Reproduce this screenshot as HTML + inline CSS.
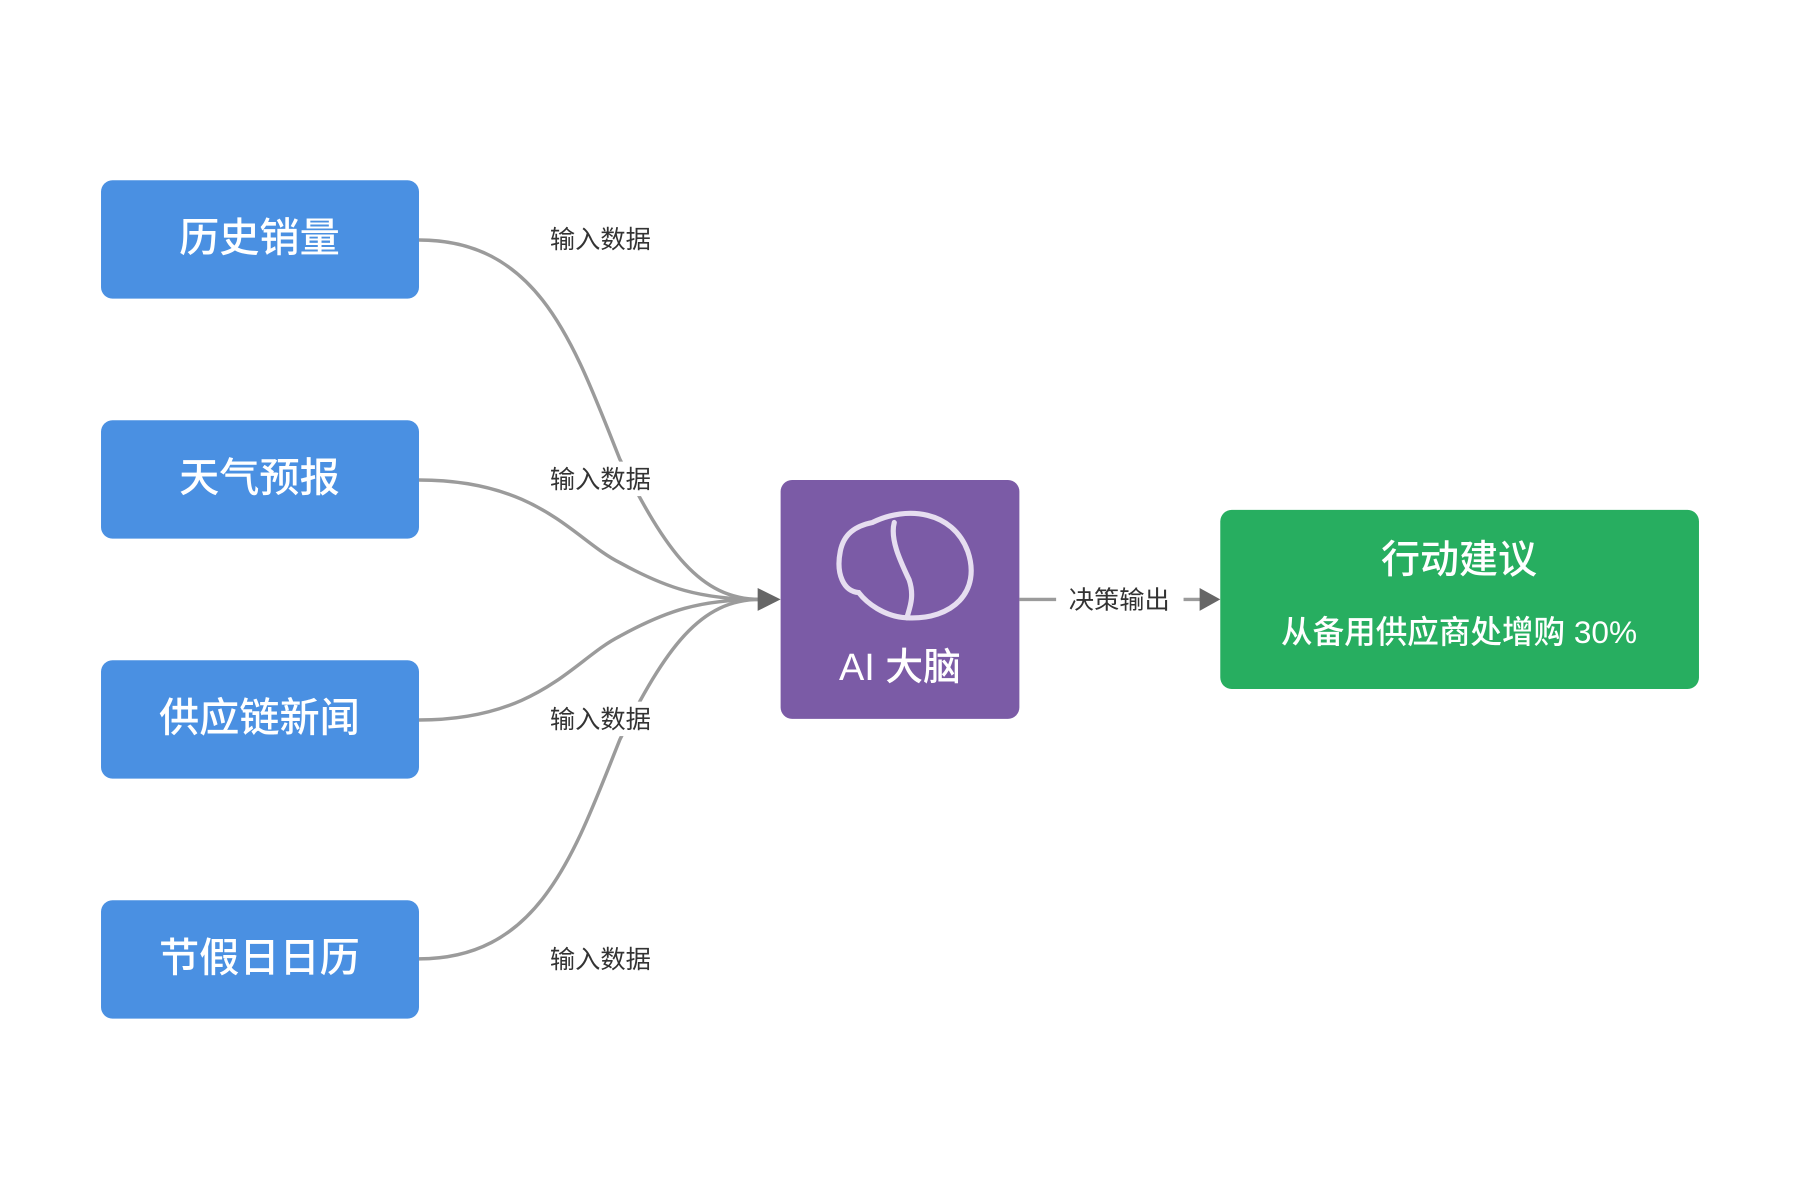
<!DOCTYPE html>
<html><head><meta charset="utf-8"><style>
html,body{margin:0;padding:0;background:#fff;}
svg{display:block;}
text{font-family:"Liberation Sans","Noto Sans CJK SC",sans-serif;}
</style></head><body>
<svg width="1800" height="1200" viewBox="0 0 1568 1045" preserveAspectRatio="none">
<rect width="1568" height="1045" fill="#fff"/>
<g fill="none" stroke="#9b9b9b" stroke-width="3">
<path d="M365,209 C470,209 500,300 540,400 C580,480 610,522 662,522"/>
<path d="M365,418 C470,418 500,470 540,490 C580,512 610,522 662,522"/>
<path d="M365,627 C470,627 500,574 540,554 C580,532 610,522 662,522"/>
<path d="M365,835 C470,835 500,744 540,644 C580,564 610,522 662,522"/>
<path d="M888,522 H920"/>
<path d="M1031,522 H1046"/>
</g>
<polygon points="660,512 680,522 660,532" fill="#666"/>
<polygon points="1045,512 1063,522 1045,532" fill="#666"/>
<g font-size="22" fill="#333" text-anchor="middle">
<rect x="472" y="193" width="102" height="30" fill="#fff"/>
<text x="523" y="216">输入数据</text>
<rect x="472" y="402" width="102" height="30" fill="#fff"/>
<text x="523" y="425">输入数据</text>
<rect x="472" y="611" width="102" height="30" fill="#fff"/>
<text x="523" y="634">输入数据</text>
<rect x="472" y="820" width="102" height="30" fill="#fff"/>
<text x="523" y="843">输入数据</text>
<text x="975" y="530">决策输出</text>
</g>
<g fill="#4A90E2">
<rect x="88" y="157" width="277" height="103" rx="10"/>
<rect x="88" y="366" width="277" height="103" rx="10"/>
<rect x="88" y="575" width="277" height="103" rx="10"/>
<rect x="88" y="784" width="277" height="103" rx="10"/>
</g>
<g font-size="35" fill="#fff" text-anchor="middle" font-weight="500">
<text x="226" y="219">历史销量</text>
<text x="226" y="428">天气预报</text>
<text x="226" y="637">供应链新闻</text>
<text x="226" y="846">节假日日历</text>
</g>
<rect x="680" y="418" width="208" height="208" rx="10" fill="#7B5BA6"/>
<g fill="none" stroke="#E6DEF0" stroke-width="4.5" stroke-linecap="round">
<path d="M760,455 C790,440 830,445 843,480 C855,515 830,540 790,538 C770,537 755,525 748,516 C735,515 728,500 732,480 C735,465 745,458 760,455 Z"/>
<path d="M779,455 C775,470 785,490 792,505 C797,520 792,530 790,538"/>
</g>
<text x="784" y="592" font-size="33" fill="#fff" text-anchor="middle" font-weight="500">AI 大脑</text>
<rect x="1063" y="444" width="417" height="156" rx="10" fill="#27AE60"/>
<text x="1271" y="499" font-size="34" fill="#fff" text-anchor="middle" font-weight="500">行动建议</text>
<text x="1271" y="560" font-size="27.5" fill="#fff" text-anchor="middle" font-weight="500">从备用供应商处增购 30%</text>
</svg>
</body></html>
